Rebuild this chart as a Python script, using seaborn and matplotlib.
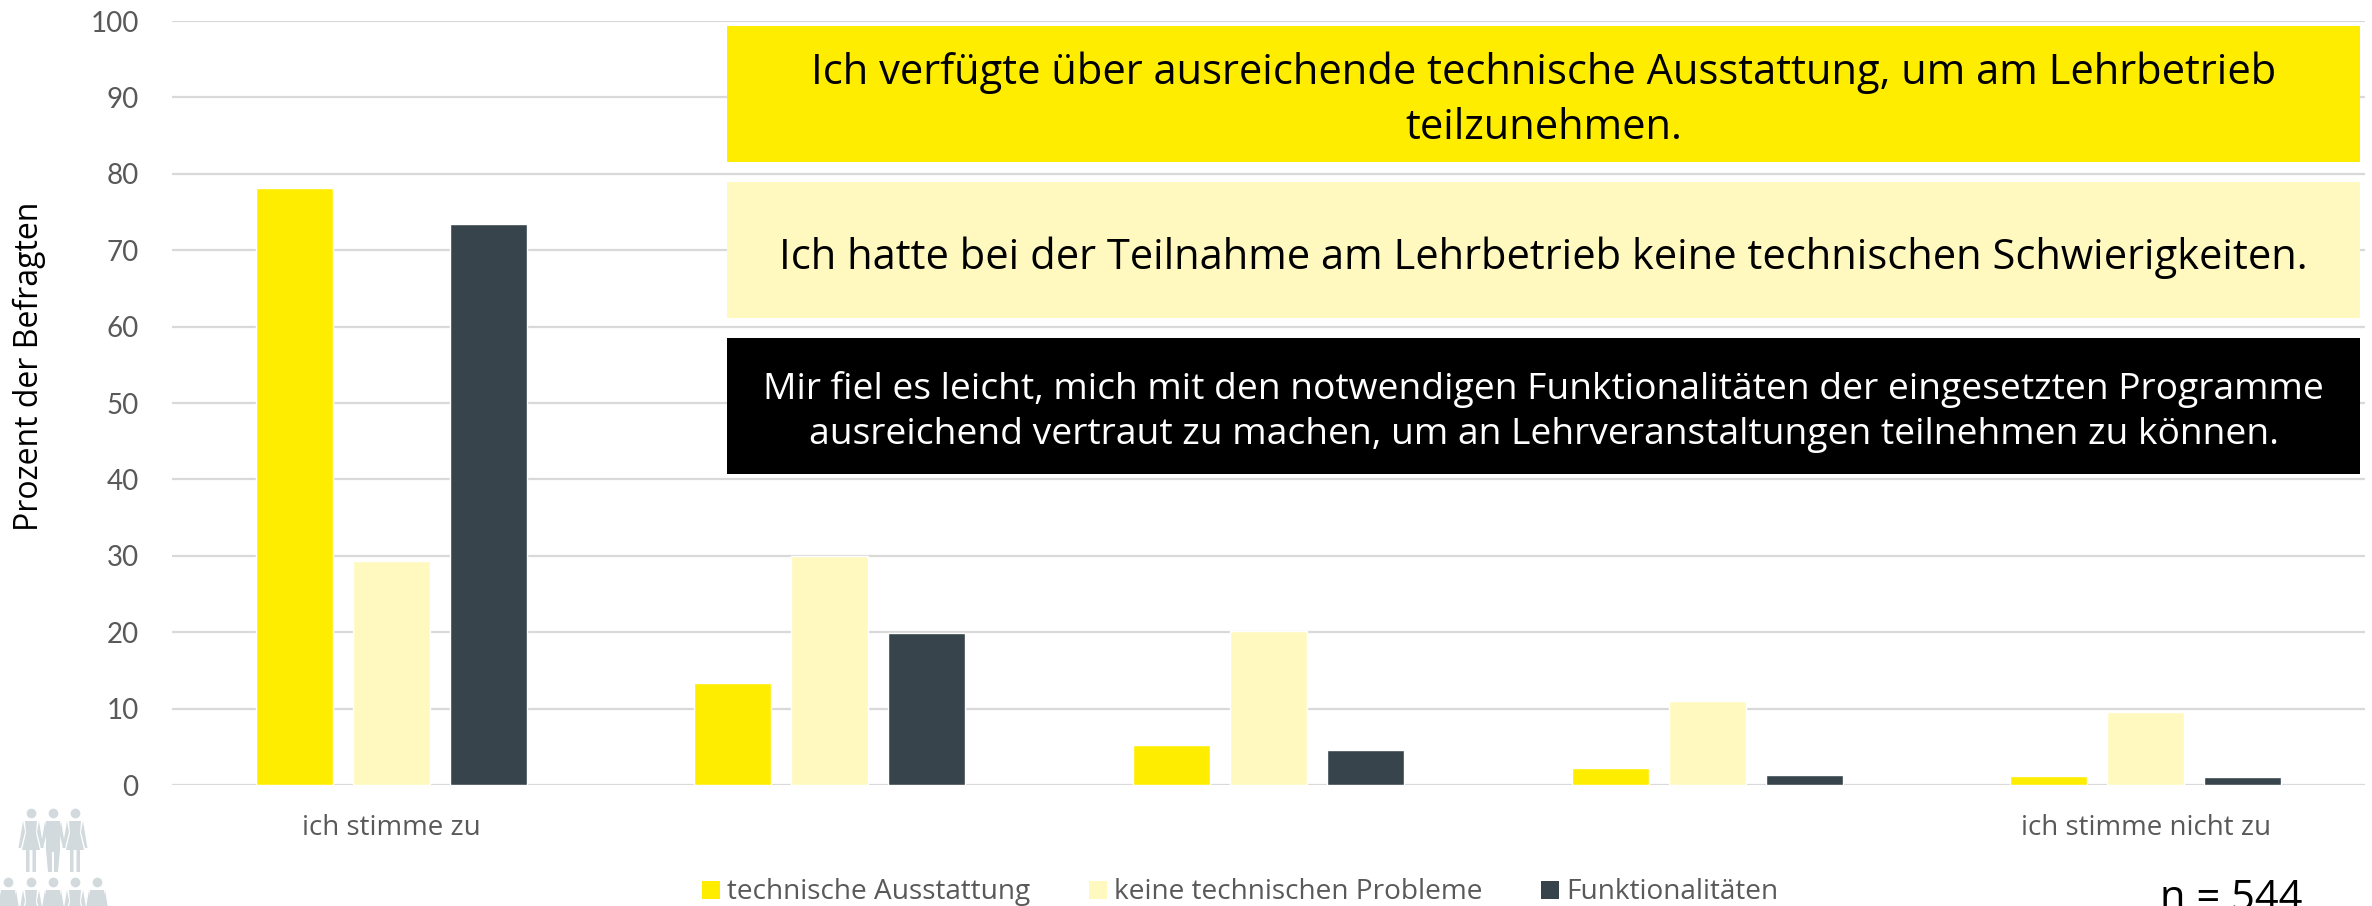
import matplotlib.pyplot as plt
from matplotlib.patches import Rectangle, Polygon
import pandas as pd
import seaborn as sns

W, H = 2372, 906

stufen = [1, 2, 3, 4, 5]
stufen_labels = ["ich stimme zu", "", "", "", "ich stimme nicht zu"]
ausstattung = [78.2, 13.4, 5.2, 2.2, 1.2]
probleme = [29.3, 30.0, 20.2, 11.0, 9.5]
funktionen = [73.4, 19.9, 4.6, 1.3, 1.0]
serien = ["technische Ausstattung", "keine technischen Probleme", "Funktionalitäten"]
farben = ["#FFED00", "#FFF9BF", "#37444C"]
yticks = list(range(0, 101, 10))

df = pd.DataFrame({
    "stufe": stufen * 3,
    "serie": [s for s in serien for _ in stufen],
    "wert": ausstattung + probleme + funktionen,
})

sns.set_theme(style="white")
plt.rcParams["font.family"] = ["Open Sans", "DejaVu Sans"]

fig = plt.figure(figsize=(W / 100, H / 100), dpi=100, facecolor="white")
ax = fig.add_axes([172 / W, 1 - 785 / H, (2365 - 172) / W, (785 - 21) / H])

sns.barplot(data=df, x="stufe", y="wert", hue="serie", hue_order=serien,
            palette=farben, width=0.663, gap=0.205, saturation=1,
            ax=ax, zorder=3, legend=False)

ax.set_xlim(-0.5, 4.5)
ax.set_ylim(0, 100)
ax.set_yticks(yticks)
ax.set_xticks(range(len(stufen)))
ax.set_xticklabels(stufen_labels, fontsize=20, color="#595959")
ax.tick_params(axis="x", length=0, pad=21)
ax.tick_params(axis="y", length=0, pad=24, labelsize=20, labelcolor="#595959")
ax.set_xlabel("")
ax.set_ylabel("")
ax.grid(axis="y", color="#D9D9D9", lw=1.6, zorder=0)
ax.set_axisbelow(True)
sns.despine(ax=ax, left=True, bottom=True, top=True, right=True)
for lab in ax.get_yticklabels():
    lab.set_fontfamily(["Lato", "DejaVu Sans"])

fig.text(29 / W, 1 - 366 / H, "Prozent der Befragten", rotation=90,
         ha="center", va="center", fontsize=23, color="black")


def px(x, y):
    return x / W, 1 - y / H


def box(x0, y0, x1, y1, color, text, tcolor, size, ls, dy):
    fig.add_artist(Rectangle(px(x0, y1), (x1 - x0) / W, (y1 - y0) / H,
                             transform=fig.transFigure, fc=color, ec="none", zorder=5))
    fig.text(*px((x0 + x1) / 2, (y0 + y1) / 2 + dy), text, ha="center", va="center",
             fontsize=size, color=tcolor, zorder=6, linespacing=ls)


box(727, 26, 2360, 162, farben[0],
    "Ich verfügte über ausreichende technische Ausstattung, um am Lehrbetrieb\nteilzunehmen.",
    "black", 30, 1.41, 6)
box(727, 182, 2360, 318, farben[1],
    "Ich hatte bei der Teilnahme am Lehrbetrieb keine technischen Schwierigkeiten.",
    "black", 30, 1.2, 8)
box(727, 338, 2360, 474, "black",
    "Mir fiel es leicht, mich mit den notwendigen Funktionalitäten der eingesetzten Programme\n"
    "ausreichend vertraut zu machen, um an Lehrveranstaltungen teilnehmen zu können.",
    "white", 26.8, 1.32, 6)

# Legende von Hand, Abstaende wie im Original
for x_sq, x_txt, farbe, name in zip([702, 1089, 1541], [727, 1114, 1566], farben, serien):
    fig.add_artist(Rectangle(px(x_sq, 899), 18 / W, 18 / H, transform=fig.transFigure,
                             fc=farbe, ec="none"))
    fig.text(*px(x_txt, 892), name, ha="left", va="center", fontsize=20.2, color="#595959")

fig.text(*px(2231, 899), "n = 544", ha="center", va="center", fontsize=30, color="black")

# Personen-Piktogramm unten links
grau = "#D2DADE"
arm = [(-8, 13), (-12.5, 40), (-10, 40), (-6, 24)]
mann = [(-7, 13), (7, 13), (7, 42), (5, 64), (1, 64), (1, 44), (-1, 44), (-1, 64), (-5, 64), (-7, 42)]
frau = [(-6, 13), (6, 13), (5, 25), (9, 42), (5, 42), (5, 64), (1.5, 64), (1.5, 42),
        (-1.5, 42), (-1.5, 64), (-5, 64), (-5, 42), (-9, 42), (-5, 25)]


def figur(cx, top, form):
    teile = [form, arm, [(-x, y) for x, y in arm]]
    for teil in teile:
        fig.add_artist(Polygon([px(cx + x, top + y) for x, y in teil], closed=True,
                               transform=fig.transFigure, fc=grau, ec="none"))
    kx, ky = px(cx, top + 5)
    fig.add_artist(plt.Line2D([kx], [ky], marker="o", ms=7, mew=0, color=grau, ls="none",
                              transform=fig.transFigure))


for cx, form in zip([31, 53, 75], [frau, mann, frau]):
    figur(cx, 808, form)
for cx, form in zip([8, 31, 53, 75, 97], [mann, frau, mann, frau, mann]):
    figur(cx, 877, form)

fig.savefig("out.png", dpi=100)
